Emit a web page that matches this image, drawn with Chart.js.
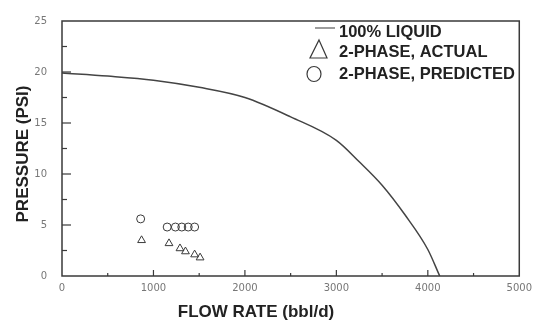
<!DOCTYPE html>
<html>
<head>
<meta charset="utf-8">
<script src="https://cdn.jsdelivr.net/npm/chart.js@4.4.1/dist/chart.umd.min.js"></script>
<style>
  html, body { margin: 0; padding: 0; background: #fff; }
  #wrap { width: 538px; height: 321px; }
</style>
</head>
<body>
<div id="wrap"><canvas id="pumpChart" width="538" height="321"></canvas></div>
<script>
// pump curve, single-phase liquid (flow bbl/d, pressure psi)
const liquidFlow = [0, 500, 1000, 1500, 2000, 2500, 3000, 3250, 3500, 3750, 4000, 4130];
const liquidPressure = [19.9, 19.6, 19.2, 18.5, 17.5, 15.6, 13.3, 11.2, 8.9, 6.0, 2.6, 0];

// two-phase test points
const actualFlow = [870, 1170, 1290, 1350, 1450, 1510];
const actualPressure = [3.5, 3.2, 2.7, 2.4, 2.1, 1.8];

const predictedFlow = [860, 1150, 1240, 1310, 1380, 1450];
const predictedPressure = [5.6, 4.8, 4.8, 4.8, 4.8, 4.8];

const xTicks = [0, 1000, 2000, 3000, 4000, 5000];
const yTicks = [0, 5, 10, 15, 20, 25];

const legendLabels = ['100% LIQUID', '2-PHASE, ACTUAL', '2-PHASE, PREDICTED'];
const xTitle = 'FLOW RATE (bbl/d)';
const yTitle = 'PRESSURE (PSI)';

const ink = '#3a3a3a';
const titleFont = 'bold 17px "Liberation Sans", Arial, sans-serif';
const legendFont = 'bold 16.5px "Liberation Sans", Arial, sans-serif';

function pairs(xs, ys) {
  return xs.map((x, i) => ({ x: x, y: ys[i] }));
}

// frame, inward ticks, axis titles and the legend box
const decorations = {
  id: 'decorations',
  afterDraw(chart) {
    const ctx = chart.ctx;
    const a = chart.chartArea;
    const xs = chart.scales.x;
    const ys = chart.scales.y;
    ctx.save();
    ctx.strokeStyle = ink;
    ctx.lineWidth = 1.5;
    ctx.strokeRect(a.left, a.top, a.right - a.left, a.bottom - a.top);

    ctx.lineWidth = 1.2;
    for (let v = 500; v < 5000; v += 500) {
      const px = xs.getPixelForValue(v);
      const len = v % 1000 === 0 ? 6 : 3;
      ctx.beginPath();
      ctx.moveTo(px, a.bottom);
      ctx.lineTo(px, a.bottom - len);
      ctx.stroke();
    }
    for (let v = 2.5; v < 25; v += 2.5) {
      const py = ys.getPixelForValue(v);
      const len = v % 5 === 0 ? 9 : 5;
      ctx.beginPath();
      ctx.moveTo(a.left, py);
      ctx.lineTo(a.left + len, py);
      ctx.stroke();
    }

    // axis titles
    ctx.fillStyle = '#222';
    ctx.font = titleFont;
    ctx.textAlign = 'center';
    ctx.textBaseline = 'middle';
    ctx.fillText(xTitle, 256, 312);
    ctx.translate(23, 154);
    ctx.rotate(-Math.PI / 2);
    ctx.fillText(yTitle, 0, 0);
    ctx.setTransform(1, 0, 0, 1, 0, 0);

    // legend
    const tx = 339;
    const rows = [31, 51, 73];
    ctx.font = legendFont;
    ctx.textAlign = 'left';
    ctx.fillStyle = '#222';
    rows.forEach((y, i) => ctx.fillText(legendLabels[i], tx, y + 1));
    ctx.strokeStyle = '#666';
    ctx.lineWidth = 1.3;
    ctx.beginPath();
    ctx.moveTo(315, 28);
    ctx.lineTo(335, 28);
    ctx.stroke();
    ctx.lineWidth = 1.2;
    ctx.strokeStyle = ink;
    ctx.beginPath();
    ctx.moveTo(319, rows[1] - 11);
    ctx.lineTo(327, rows[1] + 7);
    ctx.lineTo(310, rows[1] + 7);
    ctx.closePath();
    ctx.stroke();
    ctx.beginPath();
    ctx.ellipse(314, rows[2] + 1, 7, 7.5, 0, 0, Math.PI * 2);
    ctx.stroke();
    ctx.restore();
  }
};

new Chart(document.getElementById('pumpChart'), {
  type: 'scatter',
  data: {
    datasets: [
      {
        label: legendLabels[0],
        data: pairs(liquidFlow, liquidPressure),
        showLine: true,
        cubicInterpolationMode: 'monotone',
        borderColor: '#444',
        borderWidth: 1.5,
        pointRadius: 0
      },
      {
        label: legendLabels[1],
        data: pairs(actualFlow, actualPressure),
        pointStyle: 'triangle',
        pointRadius: 4.5,
        borderColor: ink,
        backgroundColor: 'rgba(255,255,255,0)',
        borderWidth: 1
      },
      {
        label: legendLabels[2],
        data: pairs(predictedFlow, predictedPressure),
        pointStyle: 'circle',
        pointRadius: 4,
        borderColor: ink,
        backgroundColor: 'rgba(255,255,255,0)',
        borderWidth: 1
      }
    ]
  },
  options: {
    responsive: false,
    animation: false,
    layout: { padding: { top: 15, right: 13, bottom: 0, left: 0 } },
    plugins: {
      legend: { display: false },
      tooltip: { enabled: false }
    },
    scales: {
      x: {
        type: 'linear',
        min: 0,
        max: 5000,
        grid: { display: false, drawTicks: false, tickLength: 0 },
        border: { display: false },
        afterFit(scale) { scale.height = 45; },
        afterBuildTicks(scale) { scale.ticks = xTicks.map(v => ({ value: v })); },
        ticks: {
          padding: 6,
          maxRotation: 0,
          color: '#777',
          font: { family: 'DejaVu Sans', size: 10 },
          callback: v => String(v)
        }
      },
      y: {
        type: 'linear',
        min: 0,
        max: 25,
        grid: { display: false, drawTicks: false, tickLength: 0 },
        border: { display: false },
        afterFit(scale) { scale.width = 62; },
        afterBuildTicks(scale) { scale.ticks = yTicks.map(v => ({ value: v })); },
        ticks: {
          padding: 15,
          color: '#777',
          font: { family: 'DejaVu Sans', size: 10 },
          callback: v => String(v)
        }
      }
    }
  },
  plugins: [decorations]
});
</script>
</body>
</html>
